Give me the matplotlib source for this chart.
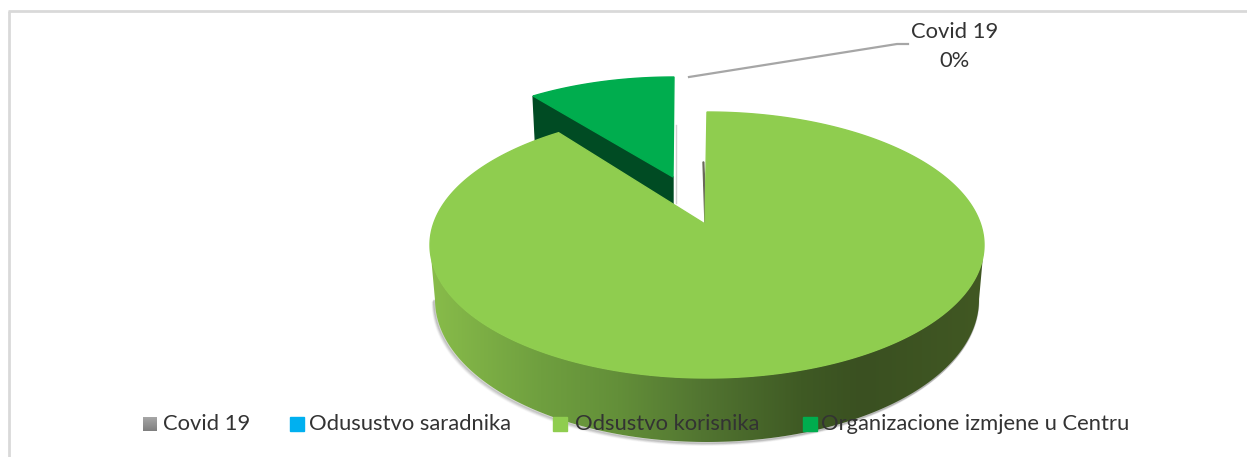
import numpy as np
import matplotlib
matplotlib.use('Agg')
import matplotlib.pyplot as plt
from matplotlib.colors import LinearSegmentedColormap
from matplotlib.patches import Polygon, Rectangle

plt.rcParams['font.family'] = ['Lato', 'DejaVu Sans']

# podaci
kategorije = ['Covid 19', 'Odusustvo saradnika', 'Odsustvo korisnika', 'Organizacione izmjene u Centru']
vrijednosti = [0, 0, 91, 9]
boje = ['#8c8c8c', '#00b0f0', '#8fcd4f', '#00ad4e']
natpis_kategorija = 'Covid 19'
natpis_udio = '0%'

W, H = 1247, 457
fig = plt.figure(figsize=(W / 100, H / 100), dpi=100)
ax = fig.add_axes([0, 0, 1, 1])
ax.axis('off')


def luk(cx, cy, rx, ry, a1, a2, n=200):
    # a1, a2 su uglovi u stepenima, od vrha kruga u smjeru kazaljke
    t = np.radians(np.linspace(a1, a2, n))
    return np.column_stack([cx + rx * np.sin(t), cy - ry * np.cos(t)])


# uglovi kriski iz podataka
ukupno = sum(vrijednosti)
kraj = np.cumsum(vrijednosti) / ukupno * 360
pocetak = np.concatenate([[0], kraj[:-1]])

# okvir
ax.plot([9.4, 9.4], [H, 11.4], color='#d9d9d9', lw=2, solid_capstyle='butt')
ax.plot([8, W], [11.4, 11.4], color='#d9d9d9', lw=2, solid_capstyle='butt')

# izdvojena kriska
a1, a2 = pocetak[3], kraj[3]
vrh = np.array([673, 177])
gornji = luk(674, 199, 263, 122, a1, a2)
ax.add_patch(Polygon([gornji[0], vrh, vrh + [0, 60], gornji[0] + [3, 60]], color='#004b23', zorder=2))
ax.add_patch(Polygon(np.vstack([gornji, vrh]), color=boje[3], zorder=3))
ax.plot([675.5, 675.5], [125, 203], color='#d0d0d0', lw=1, zorder=1)

# glavna kriska
cx, cy, rx, ry = 707, 245, 277, 133
apex = np.array([705, 224])
a1, a2 = pocetak[2], kraj[2]
gornji = luk(cx, cy, rx, ry, a1, a2, 600)

# donja ivica je manja zbog perspektive
dole = luk(cx, 300, 272, 142, 90, 270, 300)

# sjenka ispod
for i, a in zip([5, 4, 3, 2, 1], [0.04, 0.07, 0.1, 0.14, 0.18]):
    ax.plot(dole[:, 0] - i * 0.5, dole[:, 1] + i * 0.6, color='#555555', alpha=a, lw=1.5, zorder=3)

# bocna strana sa prelazom boje
gore_str = luk(cx, cy, rx, ry, 90, 270, 300)
omotac = np.vstack([gore_str, dole[::-1]])
stopala = [(0.0, '#88bc4a'), (0.2, '#6f9f3f'), (0.34, '#638f39'), (0.49, '#527531'),
           (0.67, '#3f5a24'), (0.78, '#3a5021'), (1.0, '#415823')]
cmap = LinearSegmentedColormap.from_list('bok', stopala)
slika = ax.imshow(np.linspace(0, 1, 256).reshape(1, -1), cmap=cmap, aspect='auto',
                  extent=[cx - rx, cx + rx, 445, cy], zorder=4)
slika.set_clip_path(Polygon(omotac, transform=ax.transData))

# tanka unutrasnja strana reza
ax.add_patch(Polygon([[703, 162], [703.8, 162], [706, 224], [705, 224]], color='#6a6a5a', zorder=5))
ax.add_patch(Polygon(np.vstack([gornji, apex]), color=boje[2], zorder=6))

# natpis i linija
ax.plot([689, 897, 908], [77, 44, 44], color='#a6a6a6', lw=1.6, zorder=7)
ax.text(955, 32, natpis_kategorija, ha='center', va='center', fontsize=15.8, color='#333333', zorder=8)
ax.text(955, 61, natpis_udio, ha='center', va='center', fontsize=15.8, color='#333333', zorder=8)

# legenda
marker_x = [143, 290, 553, 803]
tekst_x = [163, 309, 575, 821]
siva = LinearSegmentedColormap.from_list('siva', ['#a6a6a6', '#7f7f7f'])
for i, (k, b, mx, tx) in enumerate(zip(kategorije, boje, marker_x, tekst_x)):
    if i == 0:
        ax.imshow(np.linspace(0, 1, 32).reshape(-1, 1), cmap=siva, aspect='auto',
                  extent=[mx, mx + 14, 431, 417], zorder=8)
    else:
        ax.add_patch(Rectangle((mx, 417), 14, 14, color=b, zorder=8))
    ax.text(tx, 424, k, ha='left', va='center', fontsize=15.8, color='#333333', zorder=9)

ax.set_xlim(0, W)
ax.set_ylim(H, 0)
fig.savefig('out.png', dpi=100)
